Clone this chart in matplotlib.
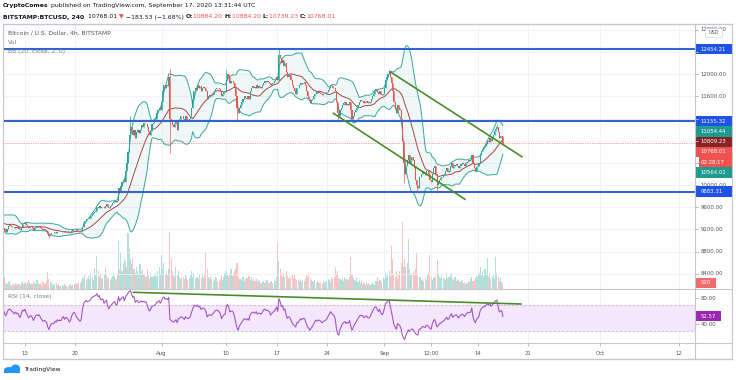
import numpy as np
import pandas as pd
import matplotlib
matplotlib.use("Agg")
import matplotlib.pyplot as plt
from matplotlib.patches import Rectangle, FancyBboxPatch, Ellipse
from matplotlib.lines import Line2D

# ---------------- data (4h candles) ----------------
start = pd.Timestamp("2020-07-06 00:00")
ref = pd.Timestamp("2020-07-13 00:00")

closes_by_day = [
    [9080, 9150, 9250, 9300, 9320, 9340],      # Jul 6
    [9320, 9300, 9280, 9250, 9240, 9250],      # Jul 7
    [9260, 9300, 9400, 9420, 9440, 9430],      # Jul 8
    [9400, 9360, 9300, 9250, 9230, 9240],      # Jul 9
    [9230, 9180, 9150, 9200, 9260, 9280],      # Jul 10
    [9270, 9250, 9240, 9220, 9250, 9230],      # Jul 11
    [9240, 9210, 9190, 9250, 9300, 9290],      # Jul 12
    [9320, 9280, 9250, 9220, 9240, 9250],      # Jul 13
    [9230, 9190, 9220, 9250, 9260, 9250],      # Jul 14
    [9260, 9230, 9210, 9190, 9200, 9190],      # Jul 15
    [9180, 9120, 9080, 9110, 9130, 9130],      # Jul 16
    [9130, 9150, 9140, 9160, 9150, 9155],      # Jul 17
    [9150, 9170, 9180, 9160, 9175, 9170],      # Jul 18
    [9160, 9140, 9150, 9180, 9200, 9210],      # Jul 19
    [9200, 9180, 9170, 9160, 9150, 9165],      # Jul 20
    [9250, 9320, 9360, 9390, 9380, 9390],      # Jul 21
    [9400, 9440, 9480, 9500, 9520, 9530],      # Jul 22
    [9600, 9580, 9620, 9590, 9600, 9610],      # Jul 23
    [9580, 9620, 9650, 9600, 9580, 9620],      # Jul 24
    [9640, 9680, 9700, 9720, 9690, 9710],      # Jul 25
    [9950, 9900, 9980, 10050, 10100, 10050],   # Jul 26
    [10250, 10400, 10600, 10900, 11050, 10980],  # Jul 27
    [10900, 11000, 10850, 10950, 11000, 10940],  # Jul 28
    [11000, 11080, 11050, 11120, 11100, 11110],  # Jul 29
    [11050, 10950, 10900, 10980, 11100, 11120],  # Jul 30
    [11150, 11200, 11300, 11350, 11400, 11350],  # Jul 31
    [11500, 11700, 11800, 11750, 11800, 11780],  # Aug 1
    [11950, 11200, 11150, 11080, 11050, 11100],  # Aug 2
    [11150, 11000, 11150, 11200, 11250, 11240],  # Aug 3
    [11200, 11150, 11250, 11200, 11180, 11200],  # Aug 4
    [11250, 11400, 11550, 11700, 11750, 11720],  # Aug 5
    [11800, 11750, 11780, 11700, 11760, 11770],  # Aug 6
    [11750, 11700, 11550, 11600, 11620, 11600],  # Aug 7
    [11620, 11650, 11700, 11740, 11760, 11750],  # Aug 8
    [11730, 11700, 11600, 11650, 11680, 11690],  # Aug 9
    [11900, 12000, 11950, 11850, 11880, 11880],  # Aug 10
    [11850, 11750, 11600, 11400, 11300, 11400],  # Aug 11
    [11450, 11500, 11550, 11600, 11580, 11560],  # Aug 12
    [11600, 11550, 11700, 11750, 11780, 11770],  # Aug 13
    [11760, 11800, 11750, 11780, 11770, 11760],  # Aug 14
    [11800, 11850, 11880, 11860, 11870, 11860],  # Aug 15
    [11850, 11800, 11830, 11850, 11870, 11900],  # Aug 16
    [11950, 11900, 12350, 12300, 12200, 12250],  # Aug 17
    [12150, 12200, 12050, 11950, 12000, 11980],  # Aug 18
    [11900, 11800, 11750, 11700, 11650, 11760],  # Aug 19
    [11750, 11800, 11850, 11820, 11850, 11860],  # Aug 20
    [11800, 11700, 11600, 11550, 11480, 11530],  # Aug 21
    [11550, 11600, 11650, 11680, 11660, 11680],  # Aug 22
    [11670, 11650, 11620, 11640, 11650, 11660],  # Aug 23
    [11680, 11720, 11750, 11800, 11780, 11760],  # Aug 24
    [11750, 11700, 11500, 11300, 11250, 11350],  # Aug 25
    [11400, 11450, 11480, 11500, 11450, 11470],  # Aug 26
    [11450, 11500, 11350, 11200, 11250, 11320],  # Aug 27
    [11350, 11400, 11450, 11500, 11530, 11520],  # Aug 28
    [11520, 11480, 11500, 11520, 11490, 11480],  # Aug 29
    [11500, 11550, 11600, 11650, 11700, 11710],  # Aug 30
    [11680, 11650, 11700, 11650, 11620, 11650],  # Aug 31
    [11750, 11900, 11950, 12000, 12050, 11950],  # Sep 1
    [11850, 11700, 11500, 11400, 11300, 11450],  # Sep 2
    [11400, 11350, 11200, 10800, 10400, 10200],  # Sep 3
    [10350, 10450, 10550, 10400, 10450, 10500],  # Sep 4
    [10450, 10300, 10100, 10000, 9950, 10150],   # Sep 5
    [10150, 10200, 10250, 10220, 10180, 10250],  # Sep 6
    [10250, 10200, 10100, 10050, 10200, 10300],  # Sep 7
    [10350, 10200, 10000, 10050, 10100, 10120],  # Sep 8
    [10150, 10180, 10200, 10250, 10300, 10230],  # Sep 9
    [10250, 10350, 10400, 10300, 10340, 10360],  # Sep 10
    [10380, 10340, 10300, 10350, 10380, 10400],  # Sep 11
    [10380, 10350, 10400, 10420, 10450, 10440],  # Sep 12
    [10450, 10550, 10400, 10300, 10250, 10330],  # Sep 13
    [10350, 10400, 10550, 10620, 10660, 10690],  # Sep 14
    [10700, 10750, 10800, 10780, 10850, 10800],  # Sep 15
    [10850, 10900, 10980, 11020, 11050, 10950],  # Sep 16
    [10850, 10880, 10884.20, 10768.01],          # Sep 17
]

volumes_by_day = [
    [700, 820, 650, 600, 760, 690],        # Jul 6
    [640, 580, 700, 620, 560, 610],        # Jul 7
    [720, 900, 1100, 850, 760, 700],       # Jul 8
    [800, 690, 900, 760, 650, 600],        # Jul 9
    [410, 990, 490, 410, 570, 660],        # Jul 10
    [330, 250, 410, 330, 490, 410],        # Jul 11
    [330, 410, 250, 490, 660, 410],        # Jul 12
    [490, 410, 570, 740, 490, 410],        # Jul 13
    [410, 660, 490, 410, 740, 490],        # Jul 14
    [410, 490, 330, 570, 410, 490],        # Jul 15
    [660, 1400, 820, 570, 490, 410],       # Jul 16
    [330, 410, 490, 330, 410, 250],        # Jul 17
    [250, 330, 250, 410, 330, 250],        # Jul 18
    [250, 330, 410, 250, 330, 410],        # Jul 19
    [410, 490, 410, 570, 490, 660],        # Jul 20
    [990, 820, 1150, 740, 900, 1070],      # Jul 21
    [820, 1310, 990, 740, 1720, 1150],     # Jul 22
    [2700, 1480, 990, 1230, 820, 900],     # Jul 23
    [1230, 1800, 1150, 820, 990, 740],     # Jul 24
    [900, 1070, 1310, 990, 820, 1150],     # Jul 25
    [4000, 1640, 2950, 1480, 2050, 2460],  # Jul 26
    [2300, 1800, 4600, 3280, 2460, 2050],  # Jul 27
    [2620, 1640, 1310, 1800, 1480, 1230],  # Jul 28
    [2050, 1480, 1640, 1230, 1150, 990],   # Jul 29
    [1640, 1150, 820, 1310, 990, 1070],    # Jul 30
    [1070, 1310, 990, 1480, 1800, 1230],   # Jul 31
    [2790, 1640, 2130, 1230, 1480, 1150],  # Aug 1
    [1640, 4670, 2460, 1480, 1230, 990],   # Aug 2
    [1800, 1150, 1480, 990, 820, 900],     # Aug 3
    [990, 820, 1230, 1070, 740, 900],      # Aug 4
    [1150, 1480, 990, 1310, 820, 990],     # Aug 5
    [990, 820, 1150, 900, 1310, 900],      # Aug 6
    [1230, 2950, 1640, 990, 820, 1070],    # Aug 7
    [820, 660, 740, 990, 900, 570],        # Aug 8
    [660, 820, 1150, 740, 990, 1310],      # Aug 9
    [1480, 1150, 990, 1230, 1640, 1070],   # Aug 10
    [1310, 1480, 1640, 2130, 990, 820],    # Aug 11
    [820, 740, 990, 660, 820, 900],        # Aug 12
    [900, 1070, 740, 990, 660, 820],       # Aug 13
    [660, 820, 570, 740, 660, 490],        # Aug 14
    [570, 660, 490, 570, 740, 490],        # Aug 15
    [490, 570, 660, 490, 740, 660],        # Aug 16
    [990, 3850, 2300, 1640, 1150, 990],    # Aug 17
    [1310, 990, 1480, 1070, 820, 900],     # Aug 18
    [990, 1230, 900, 1150, 820, 740],      # Aug 19
    [740, 660, 820, 570, 740, 660],        # Aug 20
    [820, 1150, 990, 1310, 900, 740],      # Aug 21
    [660, 570, 740, 490, 660, 570],        # Aug 22
    [490, 570, 410, 660, 490, 570],        # Aug 23
    [660, 820, 740, 570, 990, 820],        # Aug 24
    [990, 1800, 1230, 1480, 900, 820],     # Aug 25
    [740, 900, 660, 990, 820, 740],        # Aug 26
    [820, 990, 2620, 1150, 900, 740],      # Aug 27
    [660, 990, 570, 740, 490, 660],        # Aug 28
    [410, 490, 330, 570, 410, 490],        # Aug 29
    [330, 410, 490, 410, 330, 660],        # Aug 30
    [990, 660, 820, 740, 570, 900],        # Aug 31
    [820, 1310, 990, 1150, 1480, 1070],    # Sep 1
    [3530, 2460, 1150, 990, 1480, 820],    # Sep 2
    [1150, 1480, 2130, 5530, 1800, 2460],  # Sep 3
    [1800, 2130, 4100, 1640, 1230, 1310],  # Sep 4
    [1480, 1150, 1640, 2950, 1150, 990],   # Sep 5
    [990, 740, 820, 660, 900, 740],        # Sep 6
    [1150, 1310, 2790, 990, 740, 900],     # Sep 7
    [990, 1230, 2380, 1310, 990, 900],     # Sep 8
    [1150, 990, 820, 740, 1310, 900],      # Sep 9
    [990, 1150, 1310, 820, 740, 990],      # Sep 10
    [660, 820, 740, 570, 660, 740],        # Sep 11
    [490, 570, 410, 490, 660, 570],        # Sep 12
    [820, 990, 660, 740, 900, 1070],       # Sep 13
    [990, 1310, 1800, 1150, 1480, 990],    # Sep 14
    [1640, 1310, 2540, 990, 1310, 820],    # Sep 15
    [990, 1150, 820, 2620, 1310, 990],     # Sep 16
    [660, 900, 570, 520],                  # Sep 17
]

wick_high = {"2020-08-02 04:00": 12090, "2020-08-10 00:00": 12075,
             "2020-08-17 08:00": 12454.21, "2020-09-01 16:00": 12070,
             "2020-07-27 16:00": 11250, "2020-09-16 16:00": 11100,
             "2020-09-17 12:00": 10884.20}
wick_low = {"2020-08-02 04:00": 10580, "2020-08-11 12:00": 11150,
            "2020-08-25 12:00": 11130, "2020-08-27 12:00": 11150,
            "2020-09-03 16:00": 10040, "2020-09-05 12:00": 9880,
            "2020-09-08 08:00": 9860, "2020-07-16 08:00": 9050,
            "2020-09-17 12:00": 10739.23}

levels = [12454.21, 11155.32, 9883.31]
channel_upper = [("2020-09-01 19:00", 12047), ("2020-09-20 03:00", 10513)]
channel_lower = [("2020-08-24 22:00", 11296), ("2020-09-12 05:00", 9744)]
rsi_trend = [("2020-07-28 02:00", 89.2), ("2020-09-20 00:00", 71.2)]
bb_last = {"upper": 11054.44, "basis": 10809.23, "lower": 10564.01}
rsi_last_label = "52.57"
vol_last_label = "520"
countdown = "02:28:17"

tick_dates = ["2020-07-13", "2020-07-20", "2020-08-01", "2020-08-10", "2020-08-17",
              "2020-08-24", "2020-09-01", "2020-09-07 12:00", "2020-09-14",
              "2020-09-21", "2020-10-01", "2020-10-12"]
tick_labels = ["13", "20", "Aug", "10", "17", "24", "Sep", "12:00", "14", "21", "Oct", "12"]
price_ticks = list(range(8400, 12801, 400))

# ---------------- derived ----------------
closes = np.array([c for d in closes_by_day for c in d], dtype=float)
volumes = np.array([v for d in volumes_by_day for v in d], dtype=float)
assert len(closes) == len(volumes)
times = pd.date_range(start, periods=len(closes), freq="4h")
def dnum(ts):
    return (pd.Timestamp(ts) - ref) / pd.Timedelta(days=1)
t = np.array([dnum(x) for x in times])
opens = np.r_[closes[0], closes[:-1]]
highs = np.maximum(opens, closes)
lows = np.minimum(opens, closes)
idx = {str(ts)[:16]: i for i, ts in enumerate(times)}
for k, v in wick_high.items():
    highs[idx[k]] = max(highs[idx[k]], v)
for k, v in wick_low.items():
    lows[idx[k]] = min(lows[idx[k]], v)
up = closes >= opens

s = pd.Series(closes)
basis = s.rolling(20).mean()
sd = s.rolling(20).std(ddof=0)
upper = basis + 2 * sd
lower = basis - 2 * sd
delta = s.diff()
gain = delta.clip(lower=0).ewm(alpha=1/14, adjust=False).mean()
loss = (-delta.clip(upper=0)).ewm(alpha=1/14, adjust=False).mean()
rsi = 100 - 100 / (1 + gain / loss)

# ---------------- figure ----------------
W, H = 736, 380
fig = plt.figure(figsize=(7.36, 3.8), dpi=100)
fig.patch.set_facecolor("white")
plt.rcParams["font.family"] = ["DejaVu Sans"]

def rect(x0, y0, x1, y1):
    return [x0 / W, 1 - y1 / H, (x1 - x0) / W, (y1 - y0) / H]

XL = ((3 - 25) / 7.187, (695 - 25) / 7.187)
ax_vol = fig.add_axes(rect(3, 24, 695, 289))
ax = fig.add_axes(rect(3, 24, 695, 289))
ax_rsi = fig.add_axes(rect(3, 289, 695, 343))
ax_vol.set_zorder(0)
ax.set_zorder(1)
ax.patch.set_visible(False)
for a in (ax, ax_vol, ax_rsi):
    a.set_xlim(*XL)
    for sp in a.spines.values():
        sp.set_visible(False)
ax.set_ylim(8124, 12908)
ax_rsi.set_ylim(11.2, 94.3)
ax_vol.set_ylim(0, volumes.max() / 0.253)
ax_vol.axis("off")
ax.set_xticks([]); ax.set_yticks([])
ax_rsi.set_yticks([])

grid_c = "#eef1f7"
tick_x = [dnum(d) for d in tick_dates]
for x in tick_x:
    ax_vol.axvline(x, color=grid_c, lw=0.6, zorder=0)
    ax_rsi.axvline(x, color=grid_c, lw=0.6, zorder=0)
for p in price_ticks:
    ax.axhline(p, color=grid_c, lw=0.6, zorder=0)

green, red = "#26a69a", "#ef5350"
cols = np.where(up, green, red)
# volume
ax_vol.bar(t, volumes, width=0.15, color=np.where(up, "#b2dfdb", "#f9c4c3"), lw=0)
# bollinger
ax.fill_between(t, lower, upper, color="#26a69a", alpha=0.07, lw=0, zorder=1)
ax.plot(t, upper, color="#3aa69c", lw=0.7, zorder=2)
ax.plot(t, lower, color="#3aa69c", lw=0.7, zorder=2)
ax.plot(t, basis, color="#a8474a", lw=0.7, zorder=2)
# candles
ax.vlines(t, lows, highs, colors=cols, lw=0.5, zorder=3)
ax.bar(t, np.maximum(np.abs(closes - opens), 4), bottom=np.minimum(opens, closes),
       width=0.15, color=cols, lw=0, zorder=3)
# levels
for v in levels:
    ax.axhline(v, color="#3264d2", lw=1.5, zorder=4)
ax.axhline(closes[-1], color=red, lw=0.5, ls=(0, (1, 1.5)), zorder=2)
lc = "#4a8c2c"
for seg in (channel_upper, channel_lower):
    ax.plot([dnum(seg[0][0]), dnum(seg[1][0])], [seg[0][1], seg[1][1]], color=lc, lw=1.2, zorder=5)

# RSI
ax_rsi.axhspan(30, 70, color="#f4e6fb", lw=0, zorder=0)
for lv in (70, 30):
    ax_rsi.axhline(lv, color="#c8b6d2", lw=0.6, ls=(0, (3, 2)), zorder=1)
ax_rsi.plot(t, rsi, color="#a04ec4", lw=0.75, zorder=3)
ax_rsi.plot([dnum(rsi_trend[0][0]), dnum(rsi_trend[1][0])], [rsi_trend[0][1], rsi_trend[1][1]],
            color=lc, lw=1.2, zorder=4)
ax_rsi.set_xticks(tick_x)
ax_rsi.set_xticklabels(tick_labels)
ax_rsi.tick_params(axis="x", length=2.5, width=0.6, color="#b2b5be", labelsize=3.9,
                   labelcolor="#50535e", pad=3)

# frame
fc = "#c5c8d0"
def fline(x0, y0, x1, y1, lw=0.8, c=fc):
    fig.add_artist(Line2D([x0 / W, x1 / W], [1 - y0 / H, 1 - y1 / H], color=c, lw=lw, zorder=20))
fline(3, 24, 732, 24, 1.0); fline(3, 359, 732, 359, 1.0)
fline(3, 24, 3, 359); fline(732, 24, 732, 359)
fline(695, 24, 695, 359); fline(3, 289, 732, 289); fline(3, 343, 732, 343)

def ypix(a, v):
    return H - a.transData.transform((0, v))[1]

# right axis label boxes (stacked to avoid overlap)
BH = 10.3
def box(yc, text, color, x1=731.5, tc="white", h=BH):
    fig.add_artist(Rectangle((696 / W, 1 - (yc + h / 2) / H), (x1 - 696) / W, h / H,
                             transform=fig.transFigure, color=color, lw=0, zorder=10))
    fig.text(700.5 / W, 1 - yc / H, text, fontsize=3.9, color=tc, va="center", zorder=11)

labels = [(levels[0], f"{levels[0]:.2f}", "#1e53e5", 1),
          (levels[1], f"{levels[1]:.2f}", "#1e53e5", 1),
          (bb_last["upper"], f"{bb_last['upper']:.2f}", "#1f9a8e", 1),
          (bb_last["basis"], f"{bb_last['basis']:.2f}", "#872323", 1),
          (closes[-1], f"{closes[-1]:.2f}", "#ef5350", 2),
          (bb_last["lower"], f"{bb_last['lower']:.2f}", "#1f9a8e", 1),
          (levels[2], f"{levels[2]:.2f}", "#1e53e5", 1)]
labels.sort(key=lambda r: -r[0])
prev_bottom = -1e9
box_centers = []
for v, txt, col, n in labels:
    yc = max(ypix(ax, v), prev_bottom + BH / 2)
    box(yc, txt, col)
    box_centers.append(yc)
    if n == 2:
        box(yc + BH, countdown, "#ef5350")
        box_centers.append(yc + BH)
        fig.add_artist(Rectangle((696 / W, 1 - (yc + BH * 1.5) / H), 3 / W, BH / H,
                                 transform=fig.transFigure, color="white", lw=0, zorder=10.5))
    prev_bottom = yc + BH / 2 + (n - 1) * BH

vol_y = 282.7
box(vol_y, vol_last_label, "#f26b6b", x1=716)
box(ypix(ax_rsi, float(rsi_last_label)), rsi_last_label, "#9c27b0", x1=721)

# price scale ticks (labels hidden where a label box covers them)
for p in price_ticks:
    y = ypix(ax, p)
    if 26 < y < 287:
        fline(695, y, 698, y, 0.6, "#b2b5be")
        if all(abs(y - c) > BH / 2 + 0.5 for c in box_centers + [vol_y]):
            fig.text(700.5 / W, 1 - y / H, f"{p:.2f}", fontsize=3.9, color="#50535e",
                     va="center", zorder=6)
for v in (80, 40):
    y = ypix(ax_rsi, v)
    fline(695, y, 698, y, 0.6, "#b2b5be")
    fig.text(700.5 / W, 1 - y / H, f"{v:.2f}", fontsize=3.9, color="#50535e", va="center", zorder=6)

# USD box
fig.add_artist(FancyBboxPatch((707 / W, 1 - 36.5 / H), 14 / W, 7 / H, boxstyle="round,pad=0.002",
                              transform=fig.transFigure, fc="white", ec="#d1d4dc", lw=0.5, zorder=12))
fig.text(714 / W, 1 - 33 / H, "USD", fontsize=3.6, color="#50535e", ha="center", va="center", zorder=13)

# texts
renderer = fig.canvas.get_renderer()
def seq(x, y, parts, size=4.4):
    for s_, c_, w_ in parts:
        tt = fig.text(x / W, 1 - y / H, s_, fontsize=size, color=c_, weight=w_, va="center")
        x += tt.get_window_extent(renderer).width
dark = "#131722"
seq(3, 6, [("CryptoComes", dark, "bold"),
           (" published on TradingView.com, September 17, 2020 13:31:44 UTC", dark, "normal")])
seq(3, 17, [("BITSTAMP:BTCUSD, 240", dark, "bold"), ("  10768.01 ", dark, "normal"),
            ("▼", red, "normal"), (" −183.53 (−1.68%) ", dark, "normal"),
            ("O:", dark, "bold"), ("10884.20 ", red, "normal"),
            ("H:", dark, "bold"), ("10884.20 ", red, "normal"),
            ("L:", dark, "bold"), ("10739.23 ", red, "normal"),
            ("C:", dark, "bold"), ("10768.01", red, "normal")])
fig.text(8 / W, 1 - 33.3 / H, "Bitcoin / U.S. Dollar, 4h, BITSTAMP", fontsize=4.3, color="#50535e", va="center")
fig.text(8 / W, 1 - 42.5 / H, "Vol", fontsize=4.3, color="#787b86", va="center")
fig.text(8 / W, 1 - 51.7 / H, "BB (20, close, 2, 0)", fontsize=4.3, color="#787b86", va="center")
fig.text(8 / W, 1 - 296.7 / H, "RSI (14, close)", fontsize=4.3, color="#787b86", va="center")

# TradingView logo
fig.add_artist(Ellipse((9 / W, 1 - 370 / H), 10 / W, 6 / H, transform=fig.transFigure, color="#2196f3", lw=0))
fig.add_artist(Ellipse((15.5 / W, 1 - 368.5 / H), 9 / W, 8 / H, transform=fig.transFigure, color="#2196f3", lw=0))
fig.add_artist(Rectangle((4 / W, 1 - 373 / H), 16 / W, 3 / H, transform=fig.transFigure, color="#2196f3", lw=0))
fig.text(24 / W, 1 - 369.5 / H, "TradingView", fontsize=4.3, color=dark, va="center")

fig.savefig("out.png", dpi=100, facecolor="white")
